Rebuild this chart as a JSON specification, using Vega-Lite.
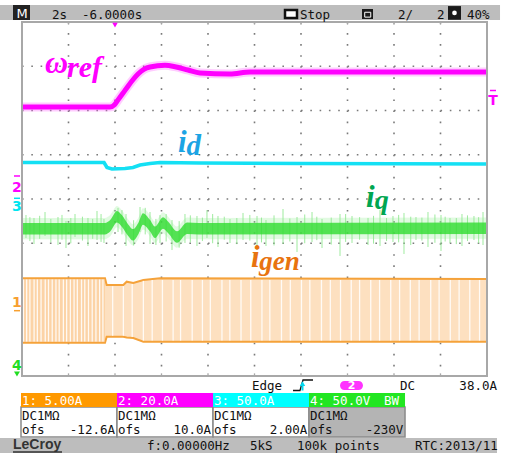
{
"$schema": "https://vega.github.io/schema/vega-lite/v6.json",
"width": 506, "height": 457, "padding": 0, "autosize": {"type": "none"},
"background": "white",
"config": {"view": {"stroke": null}},
"resolve": {"scale": {"color": "independent", "fill": "independent", "size": "independent"}},
"encoding": {
 "x": {"field": "x", "type": "quantitative", "scale": {"domain": [-0.47312, 10.4086], "nice": false, "zero": false}, "axis": null},
 "y": {"field": "y", "type": "quantitative", "scale": {"domain": [-1.83051, 8.49718], "nice": false, "zero": false}, "axis": null}
},
"layer": [
 {"data": {"values": [{"x": -0.47312, "x2": 10.28, "y": 8.045, "y2": 8.384}]},
  "mark": {"type": "rect", "fill": "#bdbdbd"},
  "encoding": {"x2": {"field": "x2"}, "y2": {"field": "y2"}}},
 {"data": {"values": [{"x": -0.47312, "x2": 10.215, "y": -1.401, "y2": -1.740}]},
  "mark": {"type": "rect", "fill": "#bdbdbd"},
  "encoding": {"x2": {"field": "x2"}, "y2": {"field": "y2"}}},
 {"data": {"values": [{"x": 1, "y": 8, "y2": 0}, {"x": 2, "y": 8, "y2": 0}, {"x": 3, "y": 8, "y2": 0}, {"x": 4, "y": 8, "y2": 0}, {"x": 5, "y": 8, "y2": 0}, {"x": 6, "y": 8, "y2": 0}, {"x": 7, "y": 8, "y2": 0}, {"x": 8, "y": 8, "y2": 0}, {"x": 9, "y": 8, "y2": 0}]},
  "mark": {"type": "rule", "color": "#7a7a7a", "strokeWidth": 1.6, "strokeDash": [1.6, 9.46]},
  "encoding": {"y2": {"field": "y2"}}},
 {"data": {"values": [{"y": 1, "x": 0, "x2": 10}, {"y": 2, "x": 0, "x2": 10}, {"y": 3, "x": 0, "x2": 10}, {"y": 4, "x": 0, "x2": 10}, {"y": 5, "x": 0, "x2": 10}, {"y": 6, "x": 0, "x2": 10}, {"y": 7, "x": 0, "x2": 10}]},
  "mark": {"type": "rule", "color": "#7a7a7a", "strokeWidth": 1.6, "strokeDash": [1.6, 7.7]},
  "encoding": {"x2": {"field": "x2"}}},
 {"data": {"values": [{"x": 0, "y": 2.208, "y2": 0.753}, {"x": 1.785, "y": 2.208, "y2": 0.753}, {"x": 1.821, "y": 2.056, "y2": 0.888}, {"x": 2.179, "y": 2.056, "y2": 0.888}, {"x": 2.251, "y": 2.131, "y2": 0.870}, {"x": 2.394, "y": 2.102, "y2": 0.859}, {"x": 2.609, "y": 2.169, "y2": 0.775}, {"x": 2.968, "y": 2.208, "y2": 0.775}, {"x": 10, "y": 2.192, "y2": 0.775}]},
  "layer": [
   {"mark": {"type": "area", "color": "#fde0c0"}, "encoding": {"y2": {"field": "y2"}}},
   {"mark": {"type": "line", "color": "#f5a23a", "strokeWidth": 2}, "encoding": {}},
   {"mark": {"type": "line", "color": "#f5a23a", "strokeWidth": 2}, "encoding": {"y": {"field": "y2", "type": "quantitative"}}}
  ]},
 {"data": {"values": [{"x": 0, "y": 2.19, "y2": 0.77}, {"x": 1.785, "y": 2.19, "y2": 0.77}]},
  "mark": {"type": "area", "color": "#fbc890", "opacity": 0.55},
  "encoding": {"y2": {"field": "y2"}}},
 {"data": {"values": [
  {"x": 0.03, "y": 2.18, "y2": 0.78}, {"x": 0.10, "y": 2.18, "y2": 0.78}, {"x": 0.17, "y": 2.18, "y2": 0.78}, {"x": 0.26, "y": 2.18, "y2": 0.78}, {"x": 0.33, "y": 2.18, "y2": 0.78}, {"x": 0.41, "y": 2.18, "y2": 0.78},
  {"x": 0.50, "y": 2.18, "y2": 0.78}, {"x": 0.57, "y": 2.18, "y2": 0.78}, {"x": 0.65, "y": 2.18, "y2": 0.78}, {"x": 0.73, "y": 2.18, "y2": 0.78}, {"x": 0.80, "y": 2.18, "y2": 0.78}, {"x": 0.89, "y": 2.18, "y2": 0.78},
  {"x": 0.96, "y": 2.18, "y2": 0.78}, {"x": 1.04, "y": 2.18, "y2": 0.78}, {"x": 1.12, "y": 2.18, "y2": 0.78}, {"x": 1.19, "y": 2.18, "y2": 0.78}, {"x": 1.28, "y": 2.18, "y2": 0.78}, {"x": 1.35, "y": 2.18, "y2": 0.78},
  {"x": 1.43, "y": 2.18, "y2": 0.78}, {"x": 1.51, "y": 2.18, "y2": 0.78}, {"x": 1.59, "y": 2.18, "y2": 0.78}, {"x": 1.67, "y": 2.18, "y2": 0.78}, {"x": 1.74, "y": 2.18, "y2": 0.78},
  {"x": 1.95, "y": 2.03, "y2": 0.91}, {"x": 2.18, "y": 2.03, "y2": 0.91}, {"x": 2.37, "y": 2.08, "y2": 0.88}, {"x": 2.61, "y": 2.15, "y2": 0.80}, {"x": 2.80, "y": 2.17, "y2": 0.80}, {"x": 3.02, "y": 2.17, "y2": 0.80},
  {"x": 3.25, "y": 2.17, "y2": 0.80}, {"x": 3.41, "y": 2.17, "y2": 0.80}, {"x": 3.66, "y": 2.17, "y2": 0.80}, {"x": 3.88, "y": 2.17, "y2": 0.80}, {"x": 4.05, "y": 2.17, "y2": 0.80}, {"x": 4.30, "y": 2.17, "y2": 0.80},
  {"x": 4.47, "y": 2.17, "y2": 0.80}, {"x": 4.71, "y": 2.17, "y2": 0.80}, {"x": 4.92, "y": 2.17, "y2": 0.80}, {"x": 5.16, "y": 2.17, "y2": 0.80}, {"x": 5.33, "y": 2.17, "y2": 0.80}, {"x": 5.58, "y": 2.17, "y2": 0.80},
  {"x": 5.77, "y": 2.17, "y2": 0.80}, {"x": 6.01, "y": 2.17, "y2": 0.80}, {"x": 6.19, "y": 2.17, "y2": 0.80}, {"x": 6.44, "y": 2.17, "y2": 0.80}, {"x": 6.63, "y": 2.17, "y2": 0.80}, {"x": 6.85, "y": 2.17, "y2": 0.80},
  {"x": 7.08, "y": 2.17, "y2": 0.80}, {"x": 7.26, "y": 2.17, "y2": 0.80}, {"x": 7.50, "y": 2.17, "y2": 0.80}, {"x": 7.69, "y": 2.17, "y2": 0.80}, {"x": 7.93, "y": 2.17, "y2": 0.80}, {"x": 8.12, "y": 2.17, "y2": 0.80},
  {"x": 8.35, "y": 2.17, "y2": 0.80}, {"x": 8.54, "y": 2.17, "y2": 0.80}, {"x": 8.79, "y": 2.17, "y2": 0.80}, {"x": 8.97, "y": 2.17, "y2": 0.80}, {"x": 9.21, "y": 2.17, "y2": 0.80}, {"x": 9.40, "y": 2.17, "y2": 0.80},
  {"x": 9.63, "y": 2.17, "y2": 0.80}, {"x": 9.84, "y": 2.17, "y2": 0.80}]},
  "mark": {"type": "rule", "color": "#ffffff", "strokeWidth": 1.3, "opacity": 0.85},
  "encoding": {"y2": {"field": "y2"}}},
 {"data": {"values": [
  {"x": 0, "y": 3.57, "y2": 3.09}, {"x": 1.785, "y": 3.57, "y2": 3.09}, {"x": 1.892, "y": 3.63, "y2": 3.15}, {"x": 2.043, "y": 3.84, "y2": 3.36},
  {"x": 2.151, "y": 3.74, "y2": 3.26}, {"x": 2.28, "y": 3.54, "y2": 3.06}, {"x": 2.387, "y": 3.43, "y2": 2.95}, {"x": 2.5, "y": 3.57, "y2": 3.09},
  {"x": 2.602, "y": 3.79, "y2": 3.31}, {"x": 2.75, "y": 3.64, "y2": 3.16}, {"x": 2.86, "y": 3.49, "y2": 3.01}, {"x": 3.032, "y": 3.70, "y2": 3.22},
  {"x": 3.15, "y": 3.59, "y2": 3.11}, {"x": 3.333, "y": 3.38, "y2": 2.90}, {"x": 3.548, "y": 3.58, "y2": 3.10}, {"x": 3.8, "y": 3.57, "y2": 3.09},
  {"x": 10, "y": 3.58, "y2": 3.10}]},
  "mark": {"type": "area", "color": "#9cee9c", "opacity": 0.3, "interpolate": "monotone"},
  "encoding": {"y2": {"field": "y2"}}},
 {"data": {"values": [
  {"x": 0.086, "y": 3.638, "y2": 3.119}, {"x": 0.258, "y": 3.571, "y2": 2.983}, {"x": 0.495, "y": 3.706, "y2": 3.164}, {"x": 0.774, "y": 3.593, "y2": 2.960},
  {"x": 0.946, "y": 3.503, "y2": 2.893}, {"x": 1.140, "y": 3.661, "y2": 3.141}, {"x": 1.419, "y": 3.571, "y2": 2.938}, {"x": 1.613, "y": 3.729, "y2": 3.073},
  {"x": 1.763, "y": 3.548, "y2": 3.006}, {"x": 2.065, "y": 3.797, "y2": 3.254}, {"x": 2.237, "y": 3.661, "y2": 2.938}, {"x": 2.538, "y": 3.819, "y2": 3.254},
  {"x": 2.753, "y": 3.706, "y2": 2.983}, {"x": 2.968, "y": 3.638, "y2": 3.006}, {"x": 3.226, "y": 3.525, "y2": 2.847}, {"x": 3.505, "y": 3.661, "y2": 3.006},
  {"x": 3.763, "y": 3.616, "y2": 2.938}, {"x": 3.978, "y": 3.751, "y2": 3.119}, {"x": 4.215, "y": 3.616, "y2": 2.915}, {"x": 4.473, "y": 3.548, "y2": 3.006},
  {"x": 4.753, "y": 3.684, "y2": 3.073}, {"x": 5.054, "y": 3.616, "y2": 2.847}, {"x": 5.247, "y": 3.525, "y2": 2.938}, {"x": 5.613, "y": 3.774, "y2": 2.983},
  {"x": 5.914, "y": 3.593, "y2": 2.802}, {"x": 6.237, "y": 3.706, "y2": 3.028}, {"x": 6.452, "y": 3.548, "y2": 2.893}, {"x": 6.839, "y": 3.661, "y2": 2.712},
  {"x": 7.097, "y": 3.616, "y2": 3.006}, {"x": 7.441, "y": 3.571, "y2": 2.960}, {"x": 7.699, "y": 3.751, "y2": 2.938}, {"x": 7.978, "y": 3.616, "y2": 3.028},
  {"x": 8.215, "y": 3.684, "y2": 2.757}, {"x": 8.473, "y": 3.593, "y2": 3.073}, {"x": 8.731, "y": 3.706, "y2": 2.915}, {"x": 9.011, "y": 3.638, "y2": 2.825},
  {"x": 9.204, "y": 3.571, "y2": 3.006}, {"x": 9.462, "y": 3.661, "y2": 2.938}, {"x": 9.720, "y": 3.616, "y2": 3.073}, {"x": 9.914, "y": 3.706, "y2": 2.960},
  {"x": 0.17, "y": 3.59, "y2": 3.05}, {"x": 0.38, "y": 3.62, "y2": 3.10}, {"x": 0.62, "y": 3.55, "y2": 3.02}, {"x": 0.86, "y": 3.64, "y2": 3.08},
  {"x": 1.05, "y": 3.57, "y2": 3.00}, {"x": 1.30, "y": 3.60, "y2": 3.06}, {"x": 1.52, "y": 3.55, "y2": 3.10}, {"x": 1.70, "y": 3.66, "y2": 3.03},
  {"x": 2.15, "y": 3.75, "y2": 3.20}, {"x": 2.40, "y": 3.52, "y2": 2.95}, {"x": 2.65, "y": 3.80, "y2": 3.20}, {"x": 2.88, "y": 3.55, "y2": 2.96},
  {"x": 3.10, "y": 3.66, "y2": 3.04}, {"x": 3.38, "y": 3.50, "y2": 2.90}, {"x": 3.62, "y": 3.63, "y2": 3.02}, {"x": 3.88, "y": 3.58, "y2": 3.05},
  {"x": 4.10, "y": 3.66, "y2": 3.00}, {"x": 4.35, "y": 3.60, "y2": 3.08}, {"x": 4.62, "y": 3.57, "y2": 2.98}, {"x": 4.90, "y": 3.64, "y2": 3.06},
  {"x": 5.15, "y": 3.58, "y2": 3.02}, {"x": 5.42, "y": 3.63, "y2": 2.95}, {"x": 5.76, "y": 3.56, "y2": 3.04}, {"x": 6.08, "y": 3.65, "y2": 3.00},
  {"x": 6.34, "y": 3.60, "y2": 3.07}, {"x": 6.65, "y": 3.58, "y2": 2.97}, {"x": 6.96, "y": 3.66, "y2": 3.03}, {"x": 7.26, "y": 3.59, "y2": 3.08},
  {"x": 7.56, "y": 3.62, "y2": 2.99}, {"x": 7.84, "y": 3.57, "y2": 3.05}, {"x": 8.10, "y": 3.64, "y2": 3.02}, {"x": 8.36, "y": 3.60, "y2": 2.96},
  {"x": 8.60, "y": 3.58, "y2": 3.06}, {"x": 8.88, "y": 3.65, "y2": 3.01}, {"x": 9.10, "y": 3.60, "y2": 3.04}, {"x": 9.34, "y": 3.57, "y2": 2.98},
  {"x": 9.58, "y": 3.63, "y2": 3.05}, {"x": 9.82, "y": 3.59, "y2": 3.00}]},
  "mark": {"type": "rule", "color": "#8ee88e", "strokeWidth": 1, "opacity": 0.85},
  "encoding": {"y2": {"field": "y2"}}},
 {"data": {"values": [
  {"x": 0, "y": 3.46, "y2": 3.20}, {"x": 1.785, "y": 3.46, "y2": 3.20}, {"x": 1.892, "y": 3.52, "y2": 3.26}, {"x": 2.043, "y": 3.73, "y2": 3.47},
  {"x": 2.151, "y": 3.63, "y2": 3.37}, {"x": 2.28, "y": 3.43, "y2": 3.17}, {"x": 2.387, "y": 3.32, "y2": 3.06}, {"x": 2.5, "y": 3.46, "y2": 3.20},
  {"x": 2.602, "y": 3.68, "y2": 3.42}, {"x": 2.75, "y": 3.53, "y2": 3.27}, {"x": 2.86, "y": 3.38, "y2": 3.12}, {"x": 3.032, "y": 3.59, "y2": 3.33},
  {"x": 3.15, "y": 3.48, "y2": 3.22}, {"x": 3.333, "y": 3.27, "y2": 3.01}, {"x": 3.548, "y": 3.47, "y2": 3.21}, {"x": 3.8, "y": 3.46, "y2": 3.20},
  {"x": 10, "y": 3.47, "y2": 3.21}]},
  "mark": {"type": "area", "color": "#33dd33", "opacity": 0.82, "interpolate": "monotone"},
  "encoding": {"y2": {"field": "y2"}}},
 {"data": {"values": [{"x": 0, "y": 4.825}, {"x": 1.764, "y": 4.825}, {"x": 1.828, "y": 4.712}, {"x": 1.935, "y": 4.678}, {"x": 2.215, "y": 4.689}, {"x": 2.387, "y": 4.712}, {"x": 2.538, "y": 4.768}, {"x": 2.753, "y": 4.802}, {"x": 2.968, "y": 4.825}, {"x": 3.828, "y": 4.814}, {"x": 6.0, "y": 4.802}, {"x": 10, "y": 4.791}]},
  "mark": {"type": "line", "color": "#14e0f4", "strokeWidth": 3.6},
  "encoding": {}},
 {"data": {"values": [{"x": 0, "y": 6.079}, {"x": 1.892, "y": 6.079}, {"x": 1.99, "y": 6.13}, {"x": 2.065, "y": 6.24}, {"x": 2.17, "y": 6.39}, {"x": 2.28, "y": 6.55}, {"x": 2.39, "y": 6.70}, {"x": 2.495, "y": 6.825}, {"x": 2.62, "y": 6.93}, {"x": 2.753, "y": 6.983}, {"x": 3.075, "y": 7.02}, {"x": 3.29, "y": 6.99}, {"x": 3.57, "y": 6.915}, {"x": 3.828, "y": 6.847}, {"x": 4.473, "y": 6.825}, {"x": 4.903, "y": 6.87}, {"x": 10, "y": 6.87}]},
  "layer": [
   {"mark": {"type": "line", "color": "#ff55ff", "strokeWidth": 9, "opacity": 0.3, "interpolate": "monotone"}, "encoding": {}},
   {"mark": {"type": "line", "color": "#ff00ff", "strokeWidth": 5, "interpolate": "monotone"}, "encoding": {}}
  ]},
 {"data": {"values": [{"x": 0, "y": 0, "x2": 10, "y2": 8}]},
  "mark": {"type": "rect", "fill": "transparent", "stroke": "#a8a8a8", "strokeWidth": 2},
  "encoding": {"x2": {"field": "x2"}, "y2": {"field": "y2"}}},
 {"data": {"values": [{"x": 1, "y": 8, "y2": 7.94}, {"x": 2, "y": 8, "y2": 7.94}, {"x": 3, "y": 8, "y2": 7.94}, {"x": 4, "y": 8, "y2": 7.94}, {"x": 5, "y": 8, "y2": 7.94}, {"x": 6, "y": 8, "y2": 7.94}, {"x": 7, "y": 8, "y2": 7.94}, {"x": 8, "y": 8, "y2": 7.94}, {"x": 9, "y": 8, "y2": 7.94},
  {"x": 1, "y": 0, "y2": 0.06}, {"x": 2, "y": 0, "y2": 0.06}, {"x": 3, "y": 0, "y2": 0.06}, {"x": 4, "y": 0, "y2": 0.06}, {"x": 5, "y": 0, "y2": 0.06}, {"x": 6, "y": 0, "y2": 0.06}, {"x": 7, "y": 0, "y2": 0.06}, {"x": 8, "y": 0, "y2": 0.06}, {"x": 9, "y": 0, "y2": 0.06}]},
  "mark": {"type": "rule", "color": "#a8a8a8", "strokeWidth": 1.3},
  "encoding": {"y2": {"field": "y2"}}},
 {"data": {"values": [{"x": 0.495, "y": 6.847, "t": "ω"}, {"x": 3.355, "y": 5.062, "t": "i"}, {"x": 7.398, "y": 3.819, "t": "i"}, {"x": 4.925, "y": 2.463, "t": "i"}, {"x": 0.968, "y": 6.757, "t": "ref"}, {"x": 3.54, "y": 4.994, "t": "d"}, {"x": 7.585, "y": 3.774, "t": "q"}, {"x": 5.10, "y": 2.395, "t": "gen"}]},
  "mark": {"type": "text", "font": "Liberation Serif", "fontStyle": "italic", "fontWeight": "bold", "align": "left", "baseline": "alphabetic"},
  "encoding": {
   "text": {"field": "t"},
   "size": {"field": "t", "type": "nominal", "scale": {"domain": ["ω", "i", "ref", "d", "q", "gen"], "range": [32, 27, 18, 17, 17, 17]}, "legend": null},
   "color": {"field": "y", "type": "quantitative", "scale": {"type": "threshold", "domain": [3, 4.5, 6], "range": ["#e8730f", "#00a651", "#1ba4e4", "#ff00ff"]}, "legend": null}
  }},
 {"data": {"values": [{"x": -0.108, "y": 4.169, "t": "2"}]},
  "mark": {"type": "text", "font": "DejaVu Sans", "fontWeight": "bold", "fontSize": 14, "color": "#ff00ff", "baseline": "alphabetic"},
  "encoding": {"text": {"field": "t"}}},
 {"data": {"values": [{"x": -0.108, "y": 3.718, "t": "3"}]},
  "mark": {"type": "text", "font": "DejaVu Sans", "fontWeight": "bold", "fontSize": 14, "color": "#00e5f0", "baseline": "alphabetic"},
  "encoding": {"text": {"field": "t"}}},
 {"data": {"values": [{"x": -0.108, "y": 1.559, "t": "1"}]},
  "mark": {"type": "text", "font": "DejaVu Sans", "fontWeight": "bold", "fontSize": 14, "color": "#f7a030", "baseline": "alphabetic"},
  "encoding": {"text": {"field": "t"}}},
 {"data": {"values": [{"x": -0.108, "y": 0.136, "t": "4"}]},
  "mark": {"type": "text", "font": "DejaVu Sans", "fontWeight": "bold", "fontSize": 14, "color": "#22dd22", "baseline": "alphabetic"},
  "encoding": {"text": {"field": "t"}}},
 {"data": {"values": [{"x": 10.129, "y": 6.124, "t": "T"}]},
  "mark": {"type": "text", "font": "DejaVu Sans", "fontWeight": "bold", "fontSize": 14, "color": "#ff00ff", "baseline": "alphabetic"},
  "encoding": {"text": {"field": "t"}}},
 {"data": {"values": [{"x": -0.172, "x2": -0.043, "y": 4.52, "c": "2"}, {"x": -0.172, "x2": -0.043, "y": 4.016, "c": "3"}, {"x": -0.172, "x2": -0.043, "y": 1.476, "c": "1"}, {"x": 10.065, "x2": 10.194, "y": 6.452, "c": "T"}]},
  "mark": {"type": "rule", "strokeWidth": 1.5},
  "encoding": {"x2": {"field": "x2"}, "color": {"field": "c", "type": "nominal", "scale": {"domain": ["1", "2", "3", "T"], "range": ["#f7a030", "#ff00ff", "#00e5f0", "#ff00ff"]}, "legend": null}}},
 {"data": {"values": [{"x": -0.108, "y": 0.045}]},
  "mark": {"type": "point", "shape": "triangle-down", "filled": true, "color": "#22dd22", "size": 35, "opacity": 1},
  "encoding": {}},
 {"data": {"values": [{"x": 2.0, "y": 7.932}]},
  "mark": {"type": "point", "shape": "triangle-down", "filled": true, "color": "#ff00ff", "size": 30, "opacity": 1},
  "encoding": {}},
 {"data": {"values": [{"x": -0.194, "x2": 0.172, "y": 8.045, "y2": 8.384}]},
  "mark": {"type": "rect", "fill": "#222222"},
  "encoding": {"x2": {"field": "x2"}, "y2": {"field": "y2"}}},
 {"data": {"values": [{"x": 0.0, "y": 8.084, "t": "M"}]},
  "mark": {"type": "text", "font": "DejaVu Sans", "fontSize": 13, "color": "white", "align": "center", "baseline": "alphabetic"},
  "encoding": {"text": {"field": "t"}}},
 {"data": {"values": [{"x": 5.656, "x2": 5.914, "y": 8.271, "y2": 8.090}]},
  "mark": {"type": "rect", "fill": "white", "stroke": "#111111", "strokeWidth": 2.5},
  "encoding": {"x2": {"field": "x2"}, "y2": {"field": "y2"}}},
 {"data": {"values": [{"x": 7.312, "x2": 7.548, "y": 8.294, "y2": 8.068}, {"x": 9.161, "x2": 9.441, "y": 8.36, "y2": 8.05}]},
  "mark": {"type": "rect", "fill": "#1a1a1a"},
  "encoding": {"x2": {"field": "x2"}, "y2": {"field": "y2"}}},
 {"data": {"values": [{"x": 7.37, "x2": 7.50, "y": 8.22, "y2": 8.11}]},
  "mark": {"type": "rect", "fill": "transparent", "stroke": "white", "strokeWidth": 1},
  "encoding": {"x2": {"field": "x2"}, "y2": {"field": "y2"}}},
 {"data": {"values": [{"x": 9.301, "y": 8.205}]},
  "mark": {"type": "point", "shape": "circle", "filled": true, "color": "white", "size": 22, "opacity": 1},
  "encoding": {}},
 {"data": {"values": [{"x": 0.645, "y": 8.079, "t": "2s"}, {"x": 1.290, "y": 8.079, "t": "-6.0000s"}, {"x": 5.978, "y": 8.079, "t": "Stop"}, {"x": 8.086, "y": 8.079, "t": "2/"}, {"x": 8.925, "y": 8.079, "t": "2"}, {"x": 9.570, "y": 8.079, "t": "40%"},
  {"x": 4.946, "y": -0.316, "t": "Edge"}, {"x": 8.129, "y": -0.316, "t": "DC"},
  {"x": 2.688, "y": -1.672, "t": "f:0.00000Hz"}, {"x": 4.903, "y": -1.672, "t": "5kS"}, {"x": 5.914, "y": -1.672, "t": "100k points"}, {"x": 8.452, "y": -1.672, "t": "RTC:2013/11"}]},
  "mark": {"type": "text", "font": "DejaVu Sans Mono", "fontSize": 12.5, "color": "#111111", "align": "left", "baseline": "alphabetic"},
  "encoding": {"text": {"field": "t"}}},
 {"data": {"values": [{"x": 10.215, "y": -0.316, "t": "38.0A"}]},
  "mark": {"type": "text", "font": "DejaVu Sans Mono", "fontSize": 12.5, "color": "#111111", "align": "right", "baseline": "alphabetic"},
  "encoding": {"text": {"field": "t"}}},
 {"data": {"values": [{"x": 5.828, "y": -0.328}, {"x": 5.978, "y": -0.328}, {"x": 6.043, "y": -0.090}, {"x": 6.258, "y": -0.090}]},
  "mark": {"type": "line", "color": "#111111", "strokeWidth": 1.3},
  "encoding": {}},
 {"data": {"values": [{"x": 6.032, "y": -0.20, "y2": -0.328}]},
  "mark": {"type": "rule", "color": "#00d8f0", "strokeWidth": 2},
  "encoding": {"y2": {"field": "y2"}}},
 {"data": {"values": [{"x": 6.032, "y": -0.17}]},
  "mark": {"type": "point", "shape": "triangle-up", "filled": true, "color": "#00d8f0", "size": 30, "opacity": 1},
  "encoding": {}},
 {"data": {"values": [{"x": 6.839, "x2": 7.333, "y": -0.113, "y2": -0.316}]},
  "mark": {"type": "rect", "fill": "#ff33ff", "cornerRadius": 4.5},
  "encoding": {"x2": {"field": "x2"}, "y2": {"field": "y2"}}},
 {"data": {"values": [{"x": 7.086, "y": -0.300, "t": "2"}]},
  "mark": {"type": "text", "font": "DejaVu Sans", "fontSize": 11, "fontWeight": "bold", "color": "white", "align": "center", "baseline": "alphabetic"},
  "encoding": {"text": {"field": "t"}}},
 {"data": {"values": [{"x": -0.0215, "x2": 2.043, "y": -0.7006, "y2": -1.3785, "ch": "1"}, {"x": 2.043, "x2": 4.108, "y": -0.7006, "y2": -1.3785, "ch": "2"}, {"x": 4.108, "x2": 6.172, "y": -0.7006, "y2": -1.3785, "ch": "3"}, {"x": 6.172, "x2": 8.237, "y": -0.7006, "y2": -1.3785, "ch": "4"}]},
  "mark": {"type": "rect", "stroke": "#8a8a8a", "strokeWidth": 1.5},
  "encoding": {"x2": {"field": "x2"}, "y2": {"field": "y2"}, "fill": {"field": "ch", "type": "nominal", "scale": {"domain": ["1", "2", "3", "4"], "range": ["#ffffff", "#ffffff", "#ffffff", "#b4b4b4"]}, "legend": null}}},
 {"data": {"values": [{"x": -0.0215, "x2": 2.043, "y": -0.384, "y2": -0.7006, "ch": "1"}, {"x": 2.043, "x2": 4.108, "y": -0.384, "y2": -0.7006, "ch": "2"}, {"x": 4.108, "x2": 6.172, "y": -0.384, "y2": -0.7006, "ch": "3"}, {"x": 6.172, "x2": 8.237, "y": -0.384, "y2": -0.7006, "ch": "4"}]},
  "mark": {"type": "rect"},
  "encoding": {"x2": {"field": "x2"}, "y2": {"field": "y2"}, "fill": {"field": "ch", "type": "nominal", "scale": {"domain": ["1", "2", "3", "4"], "range": ["#ff9900", "#ff00ff", "#00ffff", "#22e622"]}, "legend": null}}},
 {"data": {"values": [{"x": 0.0, "y": -0.655, "t": "1: 5.00A"}, {"x": 2.065, "y": -0.655, "t": "2: 20.0A"}, {"x": 4.129, "y": -0.655, "t": "3: 50.0A"}, {"x": 6.194, "y": -0.655, "t": "4: 50.0V"}]},
  "mark": {"type": "text", "font": "DejaVu Sans Mono", "fontSize": 12.5, "color": "white", "align": "left", "baseline": "alphabetic"},
  "encoding": {"text": {"field": "t"}}},
 {"data": {"values": [{"x": 8.108, "y": -0.655, "t": "BW"}]},
  "mark": {"type": "text", "font": "DejaVu Sans Mono", "fontSize": 12.5, "color": "white", "align": "right", "baseline": "alphabetic"},
  "encoding": {"text": {"field": "t"}}},
 {"data": {"values": [{"x": 0.0, "y": -0.994, "t": "DC1MΩ"}, {"x": 2.065, "y": -0.994, "t": "DC1MΩ"}, {"x": 4.129, "y": -0.994, "t": "DC1MΩ"}, {"x": 6.194, "y": -0.994, "t": "DC1MΩ"},
  {"x": 0.0, "y": -1.311, "t": "ofs"}, {"x": 2.065, "y": -1.311, "t": "ofs"}, {"x": 4.129, "y": -1.311, "t": "ofs"}, {"x": 6.194, "y": -1.311, "t": "ofs"}]},
  "mark": {"type": "text", "font": "DejaVu Sans Mono", "fontSize": 12.5, "color": "#111111", "align": "left", "baseline": "alphabetic"},
  "encoding": {"text": {"field": "t"}}},
 {"data": {"values": [{"x": 2.0, "y": -1.311, "t": "-12.6A"}, {"x": 4.065, "y": -1.311, "t": "10.0A"}, {"x": 6.136, "y": -1.311, "t": "2.00A"}, {"x": 8.2, "y": -1.311, "t": "-230V"}]},
  "mark": {"type": "text", "font": "DejaVu Sans Mono", "fontSize": 12.5, "color": "#111111", "align": "right", "baseline": "alphabetic"},
  "encoding": {"text": {"field": "t"}}},
 {"data": {"values": [{"x": -0.194, "y": -1.650, "t": "LeCroy"}]},
  "mark": {"type": "text", "font": "Liberation Sans", "fontSize": 14, "fontWeight": "bold", "color": "#333333", "align": "left", "baseline": "alphabetic"},
  "encoding": {"text": {"field": "t"}}},
 {"data": {"values": [{"x": -0.194, "x2": 0.86, "y": -1.718}]},
  "mark": {"type": "rule", "color": "#333333", "strokeWidth": 1.3},
  "encoding": {"x2": {"field": "x2"}}}
]
}
